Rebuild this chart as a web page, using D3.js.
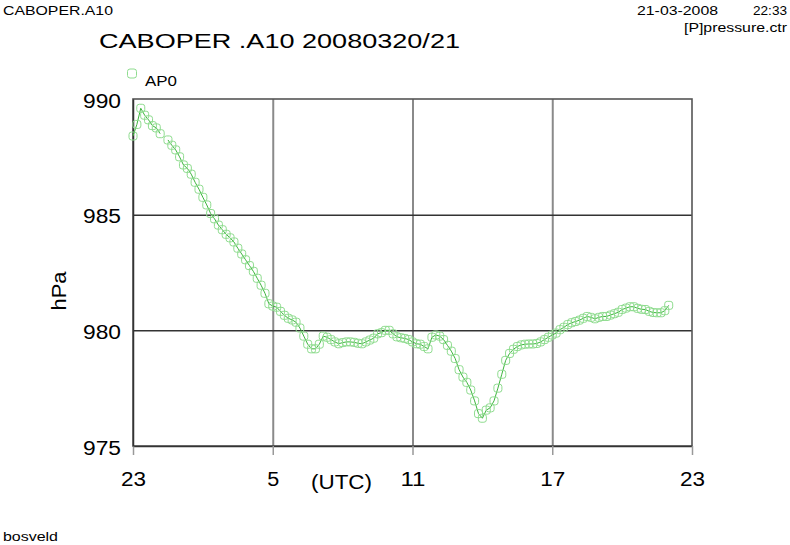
<!DOCTYPE html>
<html><head><meta charset="utf-8">
<script src="https://cdn.jsdelivr.net/npm/d3@7"></script>
<style>body{margin:0;background:#fff}svg{display:block}text{font-family:"Liberation Sans",Arial,sans-serif;fill:#000}</style>
</head><body>
<svg id="c" width="790" height="545"></svg>
<script>
// hours since 23 UTC, one reading per 10 minutes (null = missing)
const startHour = 0;
const stepMinutes = 10;
const pressure = [
988.4,988.9,989.6,989.3,989.1,988.85,988.75,988.5,null,988.23,
988.0,987.8,987.5,987.15,987.0,986.75,986.4,986.1,985.75,985.42,
985.05,984.82,984.55,984.35,984.15,984.0,983.82,983.55,983.3,983.05,
982.8,982.55,982.25,981.95,981.6,981.15,981.05,981.0,980.82,980.65,
980.52,980.45,980.35,980.1,979.75,979.4,979.2,979.2,979.4,979.75,
979.7,979.6,979.5,979.42,979.47,979.5,979.5,979.48,979.44,979.42,
979.5,979.58,979.66,979.85,979.9,980.0,980.0,979.85,979.72,979.68,
979.65,979.6,979.5,979.42,979.4,979.3,979.2,979.7,979.8,979.75,
979.6,979.35,979.1,978.78,978.3,977.98,977.75,977.42,976.95,976.4,
976.2,976.55,976.65,976.95,977.5,978.1,978.7,979.0,979.18,979.3,
979.37,979.4,979.41,979.41,979.43,979.5,979.6,979.7,979.8,979.88,
980.03,980.13,980.25,980.33,980.38,980.44,980.52,980.6,980.56,980.5,
980.56,980.6,980.6,980.66,980.72,980.78,980.9,980.96,981.02,981.02,
980.95,980.91,980.9,980.82,980.77,980.76,980.76,980.85,981.08
];
const xTickValues = [0,6,12,18,24];
const xTickLabels = ["23","5","11","17","23"];
const yTickValues = [975,980,985,990];
const seriesName = "AP0";

const data = pressure.map((p,i)=>({h: startHour + i*stepMinutes/60, p}));

const L=133,R=692,T=99,B=446;
const svg=d3.select("#c");
const x=d3.scaleLinear().domain([0,24]).range([L,R]);
const y=d3.scaleLinear().domain([975,990]).range([B,T]);

function txt(g,s,o){
  const t=g.append("text").text(s).attr("x",o.x).attr("y",o.y).attr("font-size",o.fs);
  if(o.anchor) t.attr("text-anchor",o.anchor);
  if(o.len) t.attr("textLength",o.len).attr("lengthAdjust","spacingAndGlyphs");
  if(o.rot) t.attr("transform",o.rot);
  return t;
}

// vertical grid
svg.append("g").attr("transform",`translate(0,${B})`)
  .call(d3.axisBottom(x).tickValues([6,12,18]).tickSize(-(B-T)).tickFormat(""))
  .call(g=>{g.select(".domain").remove();g.selectAll("line").attr("stroke","#8a8a8a").attr("stroke-width",2);});
// horizontal grid
svg.append("g").attr("transform",`translate(${L},0)`)
  .call(d3.axisLeft(y).tickValues([980,985]).tickSize(-(R-L)).tickFormat(""))
  .call(g=>{g.select(".domain").remove();g.selectAll("line").attr("stroke","#333").attr("stroke-width",1.5);});

// frame
svg.append("rect").attr("x",L).attr("y",T).attr("width",R-L).attr("height",B-T)
  .attr("fill","none").attr("stroke","#555").attr("stroke-width",1.6);

// x axis
const xa=svg.append("g").attr("transform",`translate(0,${B})`)
  .call(d3.axisBottom(x).tickValues(xTickValues).tickFormat((d,i)=>xTickLabels[i]).tickSizeInner(9).tickSizeOuter(0).tickPadding(13));
xa.select(".domain").attr("stroke","#333").attr("stroke-width",1.5);
xa.selectAll("line").attr("stroke","#999").attr("stroke-width",1.5);
xa.selectAll("text").attr("font-size",20).attr("font-family","Liberation Sans").attr("fill","#000")
  .attr("dy","0.9em")
  .each(function(d,i){const l=xTickLabels[i].length;d3.select(this).attr("textLength",l===1?12:25).attr("lengthAdjust","spacingAndGlyphs");});

// y axis
const ya=svg.append("g").attr("transform",`translate(${L},0)`)
  .call(d3.axisLeft(y).tickValues(yTickValues).tickFormat(d3.format("d")).tickSize(0).tickPadding(12));
ya.select(".domain").attr("stroke","#333").attr("stroke-width",1.5);
ya.selectAll("text").attr("font-size",20).attr("font-family","Liberation Sans").attr("fill","#000")
  .attr("dy","0.4em").attr("textLength",38).attr("lengthAdjust","spacingAndGlyphs");

// line
const line=d3.line().defined(d=>d.p!=null).x(d=>x(d.h)).y(d=>y(d.p));
svg.append("path").datum(data).attr("d",line).attr("fill","none").attr("stroke","#3cb43c").attr("stroke-width",1);
// markers
svg.append("g").selectAll("rect").data(data.filter(d=>d.p!=null)).join("rect")
  .attr("x",d=>x(d.h)-4).attr("y",d=>y(d.p)-4).attr("width",8).attr("height",8).attr("rx",2.5)
  .attr("fill","none").attr("stroke","#8fdc8f").attr("stroke-width",1);

// legend
svg.append("rect").attr("x",127.5).attr("y",69).attr("width",9).attr("height",9).attr("rx",2.5)
  .attr("fill","none").attr("stroke","#8fdc8f").attr("stroke-width",1);
txt(svg,seriesName,{x:145,y:86,fs:15,len:32});

// texts
txt(svg,"CABOPER.A10",{x:3,y:15,fs:13,len:110});
txt(svg,"CABOPER .A10 20080320/21",{x:99,y:48,fs:21,len:361});
txt(svg,"21-03-2008",{x:637,y:15,fs:13,len:81});
txt(svg,"22:33",{x:753,y:15,fs:13,len:34});
txt(svg,"[P]pressure.ctr",{x:684,y:32,fs:13,len:103});
txt(svg,"bosveld",{x:3,y:541,fs:13,len:55});
txt(svg,"(UTC)",{x:311,y:489,fs:20,len:61});
txt(svg,"hPa",{x:0,y:0,fs:20,anchor:"middle",len:39,rot:"translate(66,291) rotate(-90)"});
</script>
</body></html>
